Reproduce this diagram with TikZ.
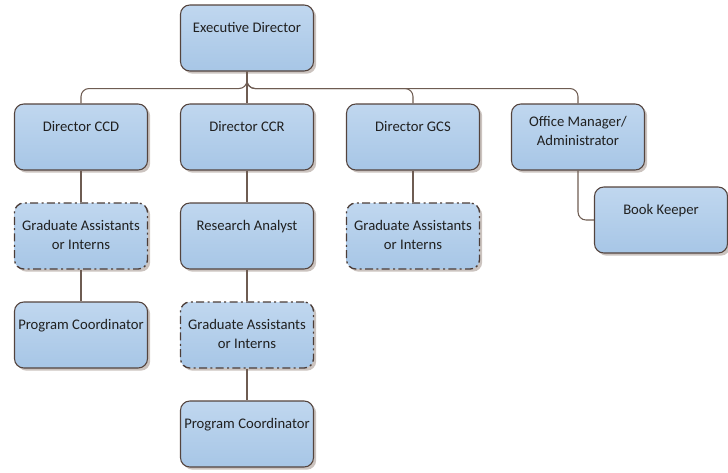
\documentclass[tikz,border=0pt]{standalone}
\usepackage{fontspec}
\setmainfont{Carlito}
\usetikzlibrary{shadows}

\definecolor{boxtop}{HTML}{C0D7EF}
\definecolor{boxbot}{HTML}{A7C6E6}
\definecolor{boxline}{HTML}{54443E}
\definecolor{linkc}{HTML}{6E5C52}
\definecolor{shadowc}{HTML}{8C7B70}
\definecolor{textc}{HTML}{202020}

\tikzset{
  orgbox/.style={draw=boxline, line width=0.8pt, rounded corners=7pt,
    top color=boxtop, bottom color=boxbot,
    minimum width=99.75pt, minimum height=49.5pt, inner sep=0pt,
    drop shadow={shadow xshift=2pt, shadow yshift=-2pt, fill=shadowc, opacity=.45}},
  tempbox/.style={orgbox, draw=boxline!90!black, line width=1pt,
    dash pattern=on 6pt off 2.5pt on 1.5pt off 2.5pt},
  txt/.style={anchor=north, yshift=-13.5pt, align=center, inner sep=0pt,
    font=\fontsize{11}{14}\selectfont, text=textc},
  link/.style={draw=linkc, line width=0.8pt, rounded corners=6pt}
}

\begin{document}
\begin{tikzpicture}[x=0.75pt, y=-0.75pt]
  \useasboundingbox (0,0) rectangle (728,472);

  % Top level
  \node[orgbox, label={[txt]north:Executive Director}] (ed) at (247,38) {};

  % Directors
  \node[orgbox, label={[txt]north:Director CCD}] (ccd) at (81,137) {};
  \node[orgbox, label={[txt]north:Director CCR}] (ccr) at (247,137) {};
  \node[orgbox, label={[txt]north:Director GCS}] (gcs) at (413,137) {};
  \node[orgbox, label={[txt,yshift=4pt]north:Office Manager/\\Administrator}] (om) at (578,137) {};

  % Staff under each director
  \node[tempbox, label={[txt]north:Graduate Assistants\\or Interns}] (gaccd) at (81,236) {};
  \node[orgbox, label={[txt]north:Program Coordinator}] (pcccd) at (81,335) {};

  \node[orgbox, label={[txt]north:Research Analyst}] (ra) at (247,236) {};
  \node[tempbox, label={[txt]north:Graduate Assistants\\or Interns}] (gaccr) at (247,335) {};
  \node[orgbox, label={[txt]north:Program Coordinator}] (pcccr) at (247,434) {};

  \node[tempbox, label={[txt]north:Graduate Assistants\\or Interns}] (gagcs) at (413,236) {};

  \node[orgbox, label={[txt]north:Book Keeper}] (bk) at (661,220) {};

  % Connectors from the top
  \draw[link] (ed.south) -- (ccr.north);
  \draw[link] (ed.south) -- ++(0,17) -| (ccd.north);
  \draw[link] (ed.south) -- ++(0,17) -| (gcs.north);
  \draw[link] (ed.south) -- ++(0,17) -| (om.north);

  % Connectors inside the columns
  \draw[link] (ccd.south) -- (gaccd.north);
  \draw[link] (gaccd.south) -- (pcccd.north);
  \draw[link] (ccr.south) -- (ra.north);
  \draw[link] (ra.south) -- (gaccr.north);
  \draw[link] (gaccr.south) -- (pcccr.north);
  \draw[link] (gcs.south) -- (gagcs.north);
  \draw[link] (om.south) |- (bk.west);

\end{tikzpicture}
\end{document}
